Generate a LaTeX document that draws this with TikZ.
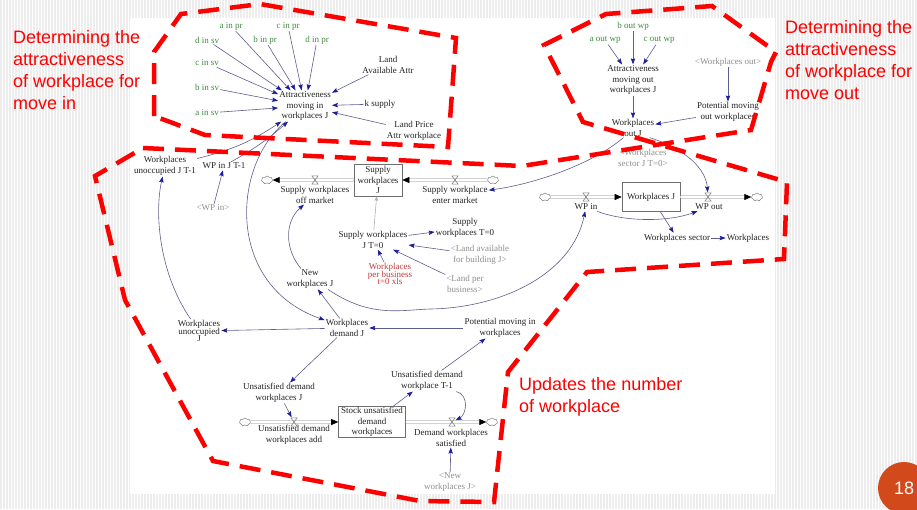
\documentclass[tikz,border=0pt]{standalone}
\usepackage{fontspec}
\setmainfont{Liberation Serif}
\newfontfamily\lsans{Liberation Sans}
\usetikzlibrary{arrows.meta,shapes.symbols}

\definecolor{txtc}{HTML}{222222}
\definecolor{grnc}{HTML}{3E8A3E}
\definecolor{shdc}{HTML}{8E8E8E}
\definecolor{xlsc}{HTML}{C43C3C}
\definecolor{linkc}{HTML}{5E5E8C}
\definecolor{tipc}{HTML}{1C1C9E}
\definecolor{boxc}{HTML}{6E6E6E}
\definecolor{pipec}{HTML}{7E7E7E}
\definecolor{zonec}{HTML}{FF0000}
\definecolor{stripec}{HTML}{EDEDED}
\definecolor{badgec}{HTML}{D24A1C}

\newcommand\dgfont{\fontsize{9}{10.5}\selectfont}
\newcommand\dgtight{\fontsize{9}{7.5}\selectfont\lineskiplimit=-20pt\relax}
\newcommand\zonefont{\lsans\fontsize{18}{22}\selectfont}

\tikzset{
  dg/.style={font=\dgfont, text=txtc, inner sep=1pt, align=center},
  dggreen/.style={dg, text=grnc},
  dgshadow/.style={dg, text=shdc},
  dgpacked/.style={dg, font=\dgtight},
  link/.style={draw=linkc, line width=0.6pt,
    -{Stealth[length=6pt,width=4.4pt,inset=1pt,color=tipc]}},
  greylink/.style={draw=shdc!70, line width=0.6pt,
    -{Stealth[length=4.5pt,width=3.5pt,inset=1pt,color=shdc!70]}},
  stockbox/.style={dg, draw=boxc, line width=0.6pt},
  pipe/.style={draw=pipec, line width=0.55pt, double=white, double distance=1.8pt,
    -{Triangle[length=7pt,width=6pt,color=black]}},
  sink/.style={cloud, cloud puffs=7, cloud puff arc=120, aspect=1.4, draw=pipec,
    fill=white, line width=0.5pt, inner sep=0pt, minimum width=11pt, minimum height=8pt},
  valve/.style={minimum width=7pt, minimum height=9pt, inner sep=0pt,
    path picture={\draw[pipec, line width=0.55pt]
      ([shift={(0.3pt,-0.3pt)}]path picture bounding box.north west) --
      ([shift={(-0.3pt,-0.3pt)}]path picture bounding box.north east) --
      ([shift={(0.3pt,0.3pt)}]path picture bounding box.south west) --
      ([shift={(-0.3pt,0.3pt)}]path picture bounding box.south east) -- cycle;}},
  zone/.style={draw=zonec, line width=4.5pt, dash pattern=on 21pt off 11pt},
  note/.style={font=\zonefont, text=zonec, anchor=base west, inner sep=0pt},
}

\begin{document}
\begin{tikzpicture}[x=1pt,y=-1pt]
\useasboundingbox (0,0) rectangle (917,509);
% slide background with fine vertical stripes
\fill[white] (0,0) rectangle (917,509);
\foreach \i in {1,4,...,916} \draw[stripec, line width=1.1pt] (\i,0) -- (\i,509);
\fill[white] (130,18) rectangle (775,494);

% ---------- attractiveness for moving in ----------
\node[dggreen] (ainpr) at (231,26) {a in pr};
\node[dggreen] (cinpr) at (288,26) {c in pr};
\node[dggreen] (dinsv) at (207,40) {d in sv};
\node[dggreen] (binpr) at (265,40) {b in pr};
\node[dggreen] (dinpr) at (317,40) {d in pr};
\node[dggreen] (cinsv) at (207,63) {c in sv};
\node[dggreen] (binsv) at (207,87) {b in sv};
\node[dggreen] (ainsv) at (207,113) {a in sv};
\node[dg] (landav) at (388,65) {Land\\Available Attr};
\node[dg] (attrin) at (305,106) {Attractiveness\\moving in\\workplaces J};
\node[dg] (ksup) at (380,104) {k supply};
\node[dg] (landpr) at (414,131) {Land Price\\Attr workplace};

\foreach \s in {ainpr,cinpr,dinsv,binpr,dinpr,cinsv,binsv,ainsv,landav,ksup,landpr}
  \draw[link] (\s) -- (attrin);

% ---------- attractiveness for moving out ----------
\node[dggreen] (boutwp) at (633,26) {b out wp};
\node[dggreen] (aoutwp) at (605,40) {a out wp};
\node[dggreen] (coutwp) at (659,40) {c out wp};
\node[dg] (attrout) at (633,80) {Attractiveness\\moving out\\workplaces J};
\node[dgshadow] (wpoutsh) at (728,62) {<Workplaces out>};
\node[dg] (potout) at (728,112) {Potential moving\\out workplaces};
\node[dg] (wpoutj) at (633,128) {Workplaces\\out J};
\node[dgshadow] (wpsecsh) at (643,158) {<Workplaces\\sector J T=0>};

\foreach \s in {aoutwp,boutwp,coutwp} \draw[link] (\s) -- (attrout);
\draw[link] (attrout) -- (wpoutj);
\draw[link] (wpoutsh) -- (potout);
\draw[link] (potout) -- (wpoutj);

% ---------- supply of workplaces ----------
\node[dg] (wpunoccT) at (165,166) {Workplaces\\unoccupied J T-1};
\node[dg] (wpinT) at (224,166) {WP in J T-1};
\node[dgshadow] (wpinsh) at (213,208) {<WP in>};

\node[stockbox, minimum width=48pt, minimum height=32pt] (supst) at (378,180) {Supply\\workplaces\\J};
\node[sink] (cl1) at (267,180) {};
\node[sink] (cl2) at (493,180) {};
\node[dg] (offlbl) at (315,195) {Supply workplaces\\off market};
\node[dg] (entlbl) at (455,195) {Supply workplace\\enter market};

\node[dg] (supjt0) at (373,240) {Supply workplaces\\J T=0};
\node[dg] (supt0) at (465,228) {Supply\\workplaces T=0};
\node[dgshadow] (landavsh) at (480,255) {<Land available\\for building J>};
\node[dgpacked, text=xlsc] (wppb) at (390,274) {Workplaces\\per business\\t=0 xls};
\node[dgshadow] (landpbsh) at (465,284) {<Land per\\business>};
\node[dg] (newwp) at (310,279) {New\\workplaces J};

% ---------- workplaces stock ----------
\node[stockbox, minimum width=58pt, minimum height=29pt] (wpst) at (651,197) {Workplaces J};
\node[sink] (cl3) at (545,197) {};
\node[sink] (cl4) at (757,197) {};
\node[dg] (wpinlbl) at (586,207) {WP in};
\node[dg] (wpoutlbl) at (709,207) {WP out};
\node[dg] (wpsec) at (677,238) {Workplaces sector};
\node[dg] (wpw) at (748,238) {Workplaces};

% ---------- demand ----------
\node[dgpacked] (wpunocc) at (199,331) {Workplaces\\unoccupied\\J};
\node[dg] (demand) at (347,328) {Workplaces\\demand J};
\node[dg] (potin) at (500,328) {Potential moving in\\workplaces};
\node[dg] (unsatj) at (279,393) {Unsatisfied demand\\workplaces J};
\node[stockbox, minimum width=67pt, minimum height=31pt] (st2) at (372,422) {Stock unsatisfied\\demand\\workplaces};
\node[sink] (cl5) at (245,422) {};
\node[sink] (cl6) at (492,422) {};
\node[dg] (addlbl) at (294,435) {Unsatisfied demand\\workplaces add};
\node[dg] (satlbl) at (451,438) {Demand workplaces\\satisfied};
\node[dg] (unsatt) at (427,381) {Unsatisfied demand\\workplace T-1};
\node[dgshadow] (newwpsh) at (450,482) {<New\\workplaces J>};

% flows (pipes first, valves on top)
\draw[pipe] (supst) -- (cl1);
\draw[pipe] (cl2) -- (supst);
\draw[pipe] (cl3) -- (wpst);
\draw[pipe] (wpst) -- (cl4);
\draw[pipe] (cl5) -- (st2);
\draw[pipe] (st2) -- (cl6);
\node[valve] (offv) at (315,180) {};
\node[valve] (entv) at (455,180) {};
\node[valve] (wpinv) at (586,197) {};
\node[valve] (wpoutv) at (708,197) {};
\node[valve] (addv) at (294,422) {};
\node[valve] (satv) at (452,422) {};

% information links
\draw[link] (wpunoccT) to[bend right=10] (attrin);
\draw[link] (wpinT) to[bend right=6] (attrin);
\draw[link] (wpinsh) -- (wpinT);
\draw[link] (attrin) .. controls (232,165) and (225,285) .. (demand);
\draw[link] (wpunocc) .. controls (160,275) and (154,215) .. (wpunoccT);
\draw[link] (wpoutj.-135) .. controls (595,162) and (540,183) .. (entlbl);
\draw[link] (wpoutj.-30) .. controls (688,150) and (706,170) .. (wpoutv);
\draw[greylink] (supjt0) -- (supst);
\draw[link] (supjt0) -- (supt0);
\draw[link] (landavsh) -- (supjt0);
\draw[link] (wppb) -- (supjt0);
\draw[link] (landpbsh) -- (supjt0);
\draw[link] (newwp) .. controls (285,250) and (284,222) .. (offlbl);
\draw[link] (newwp.-30) .. controls (370,318) and (400,310) .. (430,309)
  .. controls (500,308) and (572,275) .. (wpinlbl);
\draw[link] (wpinlbl) .. controls (625,222) and (668,222) .. (wpoutlbl);
\draw[link] (wpst) -- (wpsec);
\draw[link] (wpsec) -- (wpw);
\draw[link] (potin) -- (demand);
\draw[link] (demand) -- (wpunocc);
\draw[link] (demand) -- (newwp);
\draw[link] (demand) -- (unsatj);
\draw[link] (unsatj) -- (addv);
\draw[link] (st2) -- (unsatt);
\draw[link] (unsatt) -- (potin);
\draw[link] (unsatt.-20) .. controls (470,395) and (466,415) .. (satv);
\draw[link] (newwpsh) -- (satlbl);

% ---------- dashed zones ----------
\draw[zone] (154,116) -- (154,52) -- (181,14) -- (260,4) -- (456,38)
  -- (448,147) -- (205,135) -- cycle;
\draw[zone] (143,148) -- (522,166) -- (751,130) -- (771,62) -- (776,52)
  -- (712,6) -- (606,14) -- (544,45) -- (583,122) -- (787,182) -- (784,259)
  -- (587,272) -- (508,372) -- (494,502) -- (420,501) -- (213,461)
  -- (125,300) -- (95,176) -- cycle;

% ---------- annotations ----------
\node[note] (ina) at (13,43) {Determining the};
\node[note] (inb) at (13,65) {attractiveness};
\node[note] (inc) at (13,87) {of workplace for};
\node[note] (ind) at (13,109) {move in};
\node[note] (outa) at (785,33) {Determining the};
\node[note] (outb) at (785,55) {attractiveness};
\node[note] (outc) at (785,77) {of workplace for};
\node[note] (outd) at (785,99) {move out};
\node[note] (upa) at (519,390) {Updates the number};
\node[note] (upb) at (519,412) {of workplace};

\node[circle, fill=badgec, minimum size=52pt, inner sep=0pt, text=white,
  font=\lsans\fontsize{18}{18}\selectfont] (badge) at (904,488) {18};
\end{tikzpicture}
\end{document}
